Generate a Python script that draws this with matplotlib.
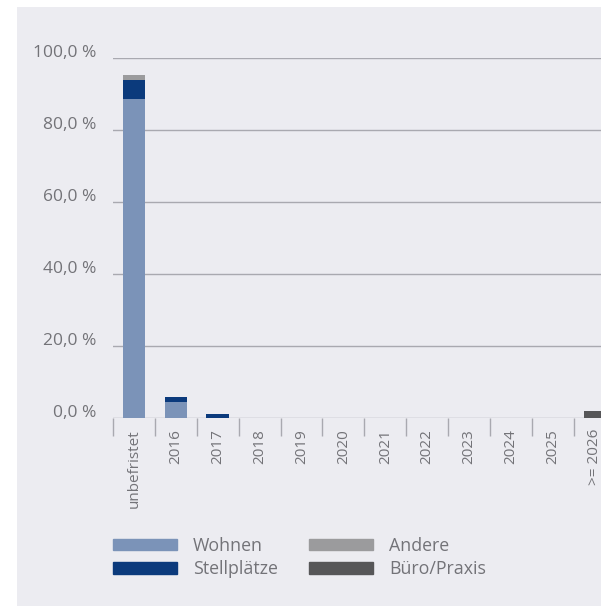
import matplotlib
matplotlib.use("Agg")
import matplotlib.pyplot as plt
from matplotlib.patches import Rectangle
import matplotlib.transforms as mtransforms
import numpy as np

plt.rcParams['font.family'] = ['Open Sans', 'DejaVu Sans']

categories = ["unbefristet", "2016", "2017", "2018", "2019", "2020", "2021",
              "2022", "2023", "2024", "2025", ">= 2026"]
wohnen = [88.6, 4.4, 0.0, 0, 0, 0, 0, 0, 0, 0, 0, 0.0]
stellplaetze = [5.3, 1.4, 1.2, 0, 0, 0, 0, 0, 0, 0, 0, 0.0]
andere = [1.3, 0.0, 0.0, 0, 0, 0, 0, 0, 0, 0, 0, 0.0]
buero = [0.0, 0.0, 0.0, 0, 0, 0, 0, 0, 0, 0, 0, 2.0]
yticks = [0, 20, 40, 60, 80, 100]

series = [("Wohnen", wohnen, "#7b93b8"),
          ("Stellplätze", stellplaetze, "#0b3a7c"),
          ("Andere", andere, "#9b9b9d"),
          ("Büro/Praxis", buero, "#565658")]

W, H = 601, 606
fig = plt.figure(figsize=(W / 100, H / 100), dpi=100)
fig.patch.set_facecolor("white")
# light panel behind the chart
fig.patches.append(Rectangle((17 / W, 0), 1, 1 - 7 / H, transform=fig.transFigure,
                             facecolor="#ececf1", edgecolor="none", zorder=-10))

n = len(categories)
step = 41.9
ax = fig.add_axes([113 / W, (H - 418) / H, n * step / W, 360 / H])
ax.set_facecolor("none")
ax.set_zorder(2)

x = np.arange(n)
bottom = np.zeros(n)
for name, vals, col in series:
    vals = np.array(vals, dtype=float)
    ax.bar(x, vals, width=0.54, bottom=bottom, color=col, zorder=3)
    bottom += vals

ax.set_xlim(-0.5, n - 0.5)
ax.set_ylim(0, 100)
for v in yticks:
    ax.axhline(v, color="#a9a9b0", lw=1.0, zorder=1)

for s in ax.spines.values():
    s.set_visible(False)

ax.set_yticks(yticks)
ax.set_yticklabels([f"{v:.1f}".replace(".", ",") + " %" for v in yticks],
                   color="#737378", fontsize=12.5)
ax.tick_params(axis="y", length=0, pad=12)
shift = mtransforms.ScaledTranslation(0, 7 / 100, fig.dpi_scale_trans)
for lab in ax.get_yticklabels():
    lab.set_transform(lab.get_transform() + shift)

ax.set_xticks(x)
ax.set_xticklabels(categories, rotation=90, color="#737378", fontsize=11,
                   va="top", ha="center")
ax.tick_params(axis="x", length=0, pad=8)
ax.set_xticks(np.arange(-0.5, n, 1), minor=True)
ax.tick_params(axis="x", which="minor", length=13, width=1.0, color="#a9a9b0")

# legend
handles = [Rectangle((0, 0), 1, 1, color=c) for _, _, c in series]
labels = [nme for nme, _, _ in series]
leg = fig.legend(handles, labels, ncol=2, loc="upper left",
                 bbox_to_anchor=(97 / W, 1 - 521 / H), frameon=False,
                 handlelength=3.6, handleheight=0.6, handletextpad=0.9,
                 columnspacing=1.75, labelspacing=0.3, fontsize=12.8)
for t in leg.get_texts():
    t.set_color("#737378")

fig.savefig("out.png", dpi=100, facecolor=fig.get_facecolor())
